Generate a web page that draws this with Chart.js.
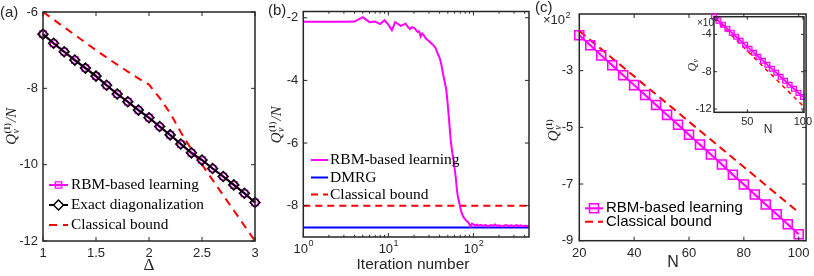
<!DOCTYPE html>
<html><head><meta charset="utf-8">
<script src="https://cdn.jsdelivr.net/npm/chart.js@4.4.1/dist/chart.umd.min.js"></script>
<style>
html,body{margin:0;padding:0;background:#fff;}
#wrap{position:relative;width:814px;height:276px;overflow:hidden;background:#fff;}
canvas{position:absolute;top:0;}
</style></head><body>
<div id="wrap">
<canvas id="ca" style="left:0px" width="270" height="276"></canvas>
<canvas id="cb" style="left:262px" width="278" height="276"></canvas>
<canvas id="cc" style="left:530px" width="284" height="276"></canvas>
<canvas id="ci" style="left:680px" width="134" height="135"></canvas>
</div>
<script>
// ---------- data: panel (a) ----------
const deltaValues = [1.0,1.1,1.2,1.3,1.4,1.5,1.6,1.7,1.8,1.9,2.0,2.1,2.2,2.3,2.4,2.5,2.6,2.7,2.8,2.9,3.0];
const edValues    = [-6.58,-6.82,-7.04,-7.26,-7.47,-7.68,-7.92,-8.15,-8.35,-8.57,-8.77,-9.00,-9.22,-9.46,-9.69,-9.88,-10.10,-10.31,-10.53,-10.75,-10.99];
const rbmValuesA  = [-6.58,-6.82,-7.04,-7.26,-7.47,-7.68,-7.92,-8.15,-8.35,-8.57,-8.77,-9.00,-9.22,-9.46,-9.69,-9.88,-10.10,-10.31,-10.53,-10.75,-10.99];
const classicalA  = [-6.00,-6.20,-6.40,-6.60,-6.80,-7.00,-7.19,-7.38,-7.56,-7.74,-7.90,-8.25,-8.65,-9.15,-9.60,-10.00,-10.40,-10.80,-11.20,-11.60,-12.00];
const xTicksA = [1,1.5,2,2.5,3];
const yTicksA = [-12,-10,-8,-6];

// ---------- data: panel (b) ----------
const iterations = [1,2,3,4,5,6,7,8,9,10,11,12,13,14,15,16,17,18,19,20,21,22,23,24,25,26,27,28,
  30,32,34,36,38,40,42,44,46,48,50,52,54,56,58,60,62,64,66,68,70,72,
  75,78,80,84,88,92,96,100,105,110,115,120,130,140,150,160,170,180,190,200,
  220,240,260,280,300,320,340,360,380,400,420,450];
const rbmIterValues = [-2.13,-2.13,-2.13,-2.12,-1.98,-2.14,-2.12,-2.20,-2.08,-2.22,-2.40,-2.14,-2.20,-2.26,-2.22,-2.19,-2.30,-2.36,-2.30,-2.32,-2.38,-2.45,-2.43,-2.60,-2.50,-2.55,-2.62,-2.68,
  -2.74,-2.82,-2.88,-2.97,-3.15,-3.27,-3.50,-3.80,-4.05,-4.30,-4.80,-5.35,-5.90,-6.25,-6.50,-6.80,-7.10,-7.50,-7.75,-7.90,-8.05,-8.20,
  -8.32,-8.40,-8.44,-8.50,-8.55,-8.66,-8.58,-8.60,-8.64,-8.60,-8.65,-8.61,-8.64,-8.62,-8.66,-8.62,-8.64,-8.60,-8.65,-8.63,
  -8.66,-8.62,-8.65,-8.63,-8.66,-8.62,-8.65,-8.63,-8.66,-8.64,-8.65,-8.64];
const dmrgValue = -8.70;
const classicalB = -8.0;
const iterRange = [1, 450];
const yTicksB = [-8,-6,-4,-2];

// ---------- data: panel (c) ----------
const sizesN = [20,24,28,32,36,40,44,48,52,56,60,64,68,72,76,80,84,88,92,96,100];
const rbmQ = [-175,-210,-246,-281,-316,-351,-386,-421,-456,-491,-526,-561,-596,-631,-667,-702,-737,-772,-807,-842,-877];
const classicalQ = [-160,-192,-224,-256,-288,-320,-352,-384,-416,-448,-480,-512,-544,-576,-608,-640,-672,-704,-736,-768,-800];
const rbmQInset = [-210,-253,-296,-339,-382,-425,-468,-511,-554,-597,-640,-683,-726,-769,-812,-855,-898,-941,-984,-1027,-1070];
const classicalQInset = [-225,-272,-319,-366,-413,-460,-507,-554,-601,-648,-695,-742,-789,-836,-883,-930,-977,-1024,-1071,-1118,-1165];
const xTicksC = [20,40,60,80,100];
const yTicksC = [-900,-700,-500,-300];
const xTicksInset = [50,100];
const yTicksInset = [-1200,-800,-400];

// ---------- style ----------
const SANS = "'Liberation Sans', Arial, Helvetica, sans-serif";
const SERIF = "'Liberation Serif', 'Times New Roman', serif";
const TXT = '#262626';
const MAG = '#ff00ff', RED = '#ff0000', BLUE = '#0000ff';

function pts(xs, ys){ return xs.map((x,i)=>({x:x, y:ys[i]})); }

function scales(o){
  return {
    x:{type:o.xType||'linear', min:o.xMin, max:o.xMax,
      afterBuildTicks:s=>{ s.ticks = o.xTicks.map(v=>({value:v})); },
      afterFit:s=>{ s.height=o.xH; s.paddingLeft=0; s.paddingRight=0; },
      grid:{display:false, drawTicks:false}, border:{display:false},
      ticks:{autoSkip:false, maxRotation:0, minRotation:0, padding:o.xPad, color:TXT,
        font:{family:SANS, size:o.xFont}, callback:o.xFmt}},
    y:{type:'linear', min:o.yMin, max:o.yMax,
      afterBuildTicks:s=>{ s.ticks = o.yTicks.map(v=>({value:v})); },
      afterFit:s=>{ s.width=o.yW; s.paddingTop=0; s.paddingBottom=0; },
      grid:{display:false, drawTicks:false}, border:{display:false},
      ticks:{autoSkip:false, padding:o.yPad, color:TXT,
        font:{family:SANS, size:o.yFont}, callback:o.yFmt}}
  };
}

function drawBox(chart, tl, lw, minorFn){
  const ctx=chart.ctx, a=chart.chartArea, xs=chart.scales.x, ys=chart.scales.y;
  ctx.save();
  ctx.strokeStyle=TXT; ctx.lineWidth=1;
  ctx.beginPath();
  xs.ticks.forEach(t=>{
    const len = (minorFn && minorFn(t.value)) ? tl*0.55 : tl;
    const p = xs.getPixelForValue(t.value);
    ctx.moveTo(p,a.bottom); ctx.lineTo(p,a.bottom-len);
    ctx.moveTo(p,a.top); ctx.lineTo(p,a.top+len);
  });
  ys.ticks.forEach(t=>{
    const p = ys.getPixelForValue(t.value);
    ctx.moveTo(a.left,p); ctx.lineTo(a.left+tl,p);
    ctx.moveTo(a.right,p); ctx.lineTo(a.right-tl,p);
  });
  ctx.stroke();
  ctx.lineWidth=lw;
  ctx.strokeRect(a.left,a.top,a.right-a.left,a.bottom-a.top);
  ctx.restore();
}

function drawQLabel(ctx, cx, cy, size, withSup, withN){
  ctx.save(); ctx.translate(cx,cy); ctx.rotate(-Math.PI/2);
  ctx.fillStyle=TXT; ctx.textBaseline='alphabetic'; ctx.textAlign='left';
  const fQ='italic '+size+'px '+SERIF;
  const fS='bold '+Math.round(size*0.6)+'px '+SERIF;
  const fv='italic '+Math.round(size*0.66)+'px '+SERIF;
  ctx.font=fQ; const wQ=ctx.measureText('Q').width;
  ctx.font=fS; const wS=withSup?ctx.measureText('(1)').width:0;
  ctx.font=fv; const wv=ctx.measureText('v').width;
  const wScript=Math.max(wS,wv)+1;
  ctx.font=fQ; const wN=withN?ctx.measureText('/N').width:0;
  const total=wQ+wScript+wN;
  let x=-total/2; const base=size*0.33;
  ctx.font=fQ; ctx.fillText('Q',x,base); x+=wQ+0.5;
  if(withSup){ ctx.font=fS; ctx.fillText('(1)',x,base-size*0.42); }
  ctx.font=fv; ctx.fillText('v',x,base+size*0.2);
  x+=wScript;
  if(withN){ ctx.font=fQ; ctx.fillText('/N',x,base); }
  ctx.restore();
}

function drawLegend(ctx, items, x0, x1, tx, font){
  items.forEach(it=>{
    ctx.save();
    ctx.strokeStyle=it.color; ctx.lineWidth=it.lw; ctx.setLineDash(it.dash||[]);
    ctx.beginPath(); ctx.moveTo(x0,it.y); ctx.lineTo(x1,it.y); ctx.stroke();
    ctx.setLineDash([]);
    if(it.marker){
      ctx.strokeStyle=it.marker.color; ctx.fillStyle=it.marker.fill; ctx.lineWidth=it.marker.lw;
      Chart.helpers.drawPoint(ctx,{pointStyle:it.marker.style, radius:it.marker.r, rotation:0, borderWidth:it.marker.lw},(x0+x1)/2,it.y);
    }
    ctx.fillStyle='#000'; ctx.font=font; ctx.textBaseline='middle'; ctx.textAlign='left';
    ctx.fillText(it.label,tx,it.y);
    ctx.restore();
  });
}

function text(ctx, s, x, y, font, align, base){
  ctx.save(); ctx.fillStyle=TXT; ctx.font=font; ctx.textAlign=align||'left'; ctx.textBaseline=base||'alphabetic';
  ctx.fillText(s,x,y); ctx.restore();
}
function sciLabel(ctx, x, y, f1, f2, dy){
  ctx.save(); ctx.fillStyle=TXT; ctx.textAlign='left'; ctx.textBaseline='alphabetic';
  ctx.font=f1; ctx.fillText('\u00d710',x,y); const w=ctx.measureText('\u00d710').width;
  ctx.font=f2; ctx.fillText('2',x+w+0.5,y-dy); ctx.restore();
}

const common = {responsive:false, animation:false, devicePixelRatio:1,
  plugins:{legend:{display:false}, tooltip:{enabled:false}}, events:[]};

// ---------- Panel (a) ----------
new Chart(document.getElementById('ca'), {
  type:'line',
  data:{datasets:[
    {data:pts(deltaValues,edValues), borderColor:'#000', borderWidth:2, pointStyle:'rectRot', pointRadius:5,
     pointBorderColor:'#000', pointBackgroundColor:'rgba(0,0,0,0)', pointBorderWidth:1.5, tension:0, clip:false, order:0},
    {data:pts(deltaValues,rbmValuesA), borderColor:MAG, borderWidth:2, pointStyle:'rect', pointRadius:4.6,
     pointBorderColor:MAG, pointBackgroundColor:'rgba(255,0,255,0.15)', pointBorderWidth:1.2, tension:0, clip:false, order:1},
    {data:pts(deltaValues,classicalA), borderColor:RED, borderWidth:2, borderDash:[8,6], pointRadius:0, tension:0, clip:false, order:2}
  ]},
  options:Object.assign({}, common, {
    layout:{padding:{left:0, top:12, right:15, bottom:0}},
    scales:scales({xMin:1,xMax:3,xTicks:xTicksA,xH:35,xPad:5,xFont:13,xFmt:v=>String(v),
                   yMin:-12,yMax:-6,yTicks:yTicksA,yW:43,yPad:5,yFont:13,yFmt:v=>String(v)})
  }),
  plugins:[{id:'decoA', afterDraw(chart){
    const ctx=chart.ctx;
    drawBox(chart,4,1.5);
    drawQLabel(ctx,11,126.5,15,true,true);
    text(ctx,'\u0394',149,266,'17px '+SERIF,'center','middle');
    text(ctx,'(a)',0,17,'15px '+SANS,'left');
    drawLegend(ctx,[
      {label:'RBM-based learning', color:MAG, lw:2, marker:{style:'rect', r:4.6, color:MAG, fill:'rgba(255,0,255,0.25)', lw:1.2}, y:185},
      {label:'Exact diagonalization', color:'#000', lw:2, marker:{style:'rectRot', r:5, color:'#000', fill:'#fff', lw:1.5}, y:205},
      {label:'Classical bound', color:RED, lw:2, dash:[8,6], y:225}
    ],49,68,71,'15.3px '+SERIF);
  }}]
});

// ---------- Panel (b) ----------
const logTicksB = [1,2,3,4,5,6,7,8,9,10,20,30,40,50,60,70,80,90,100,200,300,400];
new Chart(document.getElementById('cb'), {
  type:'line',
  data:{datasets:[
    {data:pts(iterations,rbmIterValues), borderColor:MAG, borderWidth:2, pointRadius:0, tension:0, clip:false},
    {data:pts(iterRange,[dmrgValue,dmrgValue]), borderColor:BLUE, borderWidth:2, pointRadius:0, clip:false},
    {data:pts(iterRange,[classicalB,classicalB]), borderColor:RED, borderWidth:2, borderDash:[7,5], pointRadius:0, clip:false}
  ]},
  options:Object.assign({}, common, {
    layout:{padding:{left:0, top:11.5, right:11, bottom:0}},
    scales:scales({xType:'logarithmic',xMin:1,xMax:450,xTicks:logTicksB,xH:39,xPad:5,xFont:13,xFmt:()=>'',
                   yMin:-9,yMax:-1.8,yTicks:yTicksB,yW:41.3,yPad:5,yFont:13,yFmt:v=>String(v)})
  }),
  plugins:[{id:'decoB', afterDraw(chart){
    const ctx=chart.ctx, xs=chart.scales.x;
    drawBox(chart,4,1.5,v=>![1,10,100].includes(v));
    [[1,'0'],[10,'1'],[100,'2']].forEach(([v,e])=>{
      const p=xs.getPixelForValue(v);
      ctx.save(); ctx.fillStyle=TXT; ctx.textBaseline='alphabetic'; ctx.textAlign='left';
      ctx.font='13px '+SANS; const w1=ctx.measureText('10').width;
      ctx.font='9px '+SANS; const w2=ctx.measureText(e).width;
      const x0=p-(w1+w2)/2;
      ctx.font='13px '+SANS; ctx.fillText('10',x0,252.5);
      ctx.font='9px '+SANS; ctx.fillText(e,x0+w1+0.5,245.5);
      ctx.restore();
    });
    drawQLabel(ctx,14,125,15,true,true);
    text(ctx,'Iteration number',413-262,265,'15.5px '+SANS,'center','middle');
    text(ctx,'(b)',6,15,'15px '+SANS,'left');
    drawLegend(ctx,[
      {label:'RBM-based learning', color:MAG, lw:2, y:160},
      {label:'DMRG', color:BLUE, lw:2, y:177.5},
      {label:'Classical bound', color:RED, lw:2, dash:[7,5], y:194.5}
    ],311-262,328-262,330-262,'15.5px '+SERIF);
  }}]
});

// ---------- Panel (c) main ----------
new Chart(document.getElementById('cc'), {
  type:'line',
  data:{datasets:[
    {data:pts(sizesN,rbmQ), borderColor:MAG, borderWidth:2, pointStyle:'rect', pointRadius:6.4,
     pointBorderColor:MAG, pointBackgroundColor:'rgba(255,0,255,0.12)', pointBorderWidth:1.5, tension:0, clip:false},
    {data:pts(sizesN,classicalQ), borderColor:RED, borderWidth:2, borderDash:[8,5], pointRadius:0, tension:0, clip:false}
  ]},
  options:Object.assign({}, common, {
    layout:{padding:{left:0, top:14, right:4.7, bottom:0}},
    scales:scales({xMin:20,xMax:102.7,xTicks:xTicksC,xH:35.3,xPad:5,xFont:13,xFmt:v=>String(v),
                   yMin:-900,yMax:-100,yTicks:yTicksC,yW:49.3,yPad:6,yFont:13,yFmt:v=>String(v/100)})
  }),
  plugins:[{id:'decoC', afterDraw(chart){
    const ctx=chart.ctx;
    drawBox(chart,4,1.5);
    drawQLabel(ctx,23,130,15,true,false);
    text(ctx,'N',673-530,263,'16px '+SANS,'center','middle');
    text(ctx,'(c)',5,12,'15px '+SANS,'left');
    sciLabel(ctx,13,24,'13px '+SANS,'9px '+SANS,6);
    drawLegend(ctx,[
      {label:'RBM-based learning', color:MAG, lw:2, marker:{style:'rect', r:6.4, color:MAG, fill:'rgba(255,0,255,0.12)', lw:1.5}, y:208.3},
      {label:'Classical bound', color:RED, lw:2, dash:[8,5], y:221.7}
    ],585-530,603-530,606-530,'15px '+SANS);
  }}]
});

// ---------- Panel (c) inset ----------
new Chart(document.getElementById('ci'), {
  type:'line',
  data:{datasets:[
    {data:pts(sizesN,rbmQInset), borderColor:MAG, borderWidth:1.5, pointStyle:'rect', pointRadius:3.4,
     pointBorderColor:MAG, pointBackgroundColor:'rgba(255,0,255,0.2)', pointBorderWidth:1.2, tension:0, clip:false},
    {data:pts(sizesN,classicalQInset), borderColor:RED, borderWidth:1.5, borderDash:[4,4], pointRadius:0, tension:0, clip:false}
  ]},
  options:Object.assign({}, common, {
    layout:{padding:{left:0, top:16.7, right:10, bottom:0}},
    scales:scales({xMin:20,xMax:101,xTicks:xTicksInset,xH:22.7,xPad:3,xFont:11,xFmt:v=>String(v),
                   yMin:-1235,yMax:-211,yTicks:yTicksInset,yW:34,yPad:2.5,yFont:11,yFmt:v=>String(v/100)})
  }),
  plugins:[{id:'whiteBg', beforeDraw(chart){
      const a=chart.chartArea, ctx=chart.ctx; ctx.save(); ctx.fillStyle='#fff';
      ctx.fillRect(a.left,a.top,a.right-a.left,a.bottom-a.top); ctx.restore();
    }, afterDraw(chart){
      const ctx=chart.ctx;
      drawBox(chart,3,1.5);
      drawQLabel(ctx,12,65,12,false,false);
      text(ctx,'N',768-680,130,'12px '+SANS,'center','middle');
      sciLabel(ctx,17,26,'10px '+SANS,'8px '+SANS,5);
  }}]
});
</script>
</body></html>
